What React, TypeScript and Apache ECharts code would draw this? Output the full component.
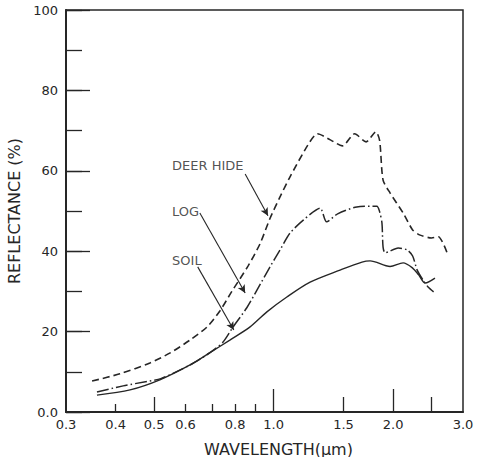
import React, { useEffect, useRef } from "react";
import * as echarts from "echarts";

// Deer hide (dashed)
const deerW = [0.349, 0.41, 0.488, 0.549, 0.616, 0.679, 0.733, 0.785, 0.862, 0.924, 0.978, 1.038, 1.1, 1.22, 1.29, 1.39, 1.49, 1.6, 1.71, 1.81, 1.85, 1.887, 1.965, 2.12, 2.24, 2.34, 2.5, 2.6, 2.75];
const deerR = [7.7, 9.5, 12.2, 14.7, 17.9, 21.1, 25.2, 30.0, 36.3, 41.8, 48.0, 53.5, 58.5, 66.4, 69.2, 67.7, 66.2, 69.2, 67.2, 69.7, 67.5, 57.7, 54.5, 49.5, 45.3, 44, 43.3, 43.6, 39];

// Log (dash-dot)
const logW = [0.359, 0.418, 0.48, 0.52, 0.616, 0.69, 0.746, 0.79, 0.857, 0.908, 0.978, 1.038, 1.1, 1.19, 1.31, 1.36, 1.45, 1.62, 1.82, 1.85, 1.875, 1.887, 1.91, 2.06, 2.17, 2.24, 2.3, 2.38, 2.45, 2.53];
const logR = [5.0, 6.5, 7.6, 8.3, 11.7, 14.7, 17.4, 21.1, 26, 30.3, 36, 40.3, 44.5, 47.8, 50.7, 47.3, 49.3, 51, 51.2, 49.8, 47, 41, 39.6, 40.8, 40.3, 38.8, 35.3, 32.8, 31.1, 29.9];

// Soil (solid)
const soilW = [0.359, 0.435, 0.517, 0.616, 0.69, 0.776, 0.871, 0.962, 1.08, 1.236, 1.47, 1.67, 1.75, 1.965, 2.12, 2.24, 2.32, 2.41, 2.55];
const soilR = [4.2, 5.5, 8.0, 11.7, 14.7, 17.9, 21.1, 24.9, 28.6, 32.3, 35.3, 37.3, 37.6, 36.2, 37.1, 35.8, 34.1, 32.1, 33.3];

// Axis ticks and labels
const xLabelValues = [0.3, 0.4, 0.5, 0.6, 0.8, 1.0, 1.5, 2.0, 3.0];
const xShortTicks = [0.4, 0.6, 0.7, 0.8, 0.9];
const xMidTicks = [0.5, 1.5, 2.5];
const xLongTicks = [1.0, 2.0];

// Annotations
const annotNames = ["DEER HIDE", "LOG", "SOIL"];
const annotW = [0.555, 0.555, 0.555];
const annotR = [61.2, 49.9, 37.8];
const arrowFrom = [[0.848, 59.2], [0.652, 49.5], [0.644, 36.1]];
const arrowTo = [[0.968, 48.8], [0.848, 29.6], [0.794, 20.4]];

const INK = "#262626";
const FONT = "DejaVu Sans";

const pairs = (w: number[], r: number[]) => w.map((x, i) => [x, r[i]]);

function makeX(ticks: number[], len: number, withLabels: boolean, extra: any = {}) {
  return {
    type: "log",
    logBase: 10,
    min: 0.3,
    max: 3.0,
    position: "bottom",
    axisLine: { show: withLabels, lineStyle: { color: INK, width: 2 } },
    axisTick: { show: true, inside: true, length: len, customValues: ticks, lineStyle: { color: INK, width: 1.3 } },
    axisLabel: withLabels
      ? { show: true, customValues: xLabelValues, formatter: (v: number) => Number(v).toFixed(1), margin: 6, fontSize: 13, color: INK, fontFamily: FONT }
      : { show: false },
    splitLine: { show: false },
    minorTick: { show: false },
    ...extra,
  };
}

export default function App() {
  const ref = useRef<HTMLDivElement>(null);
  useEffect(() => {
    if (!ref.current) return;
    const chart = echarts.init(ref.current, undefined, { renderer: "svg" });
    const option: any = {
      animation: false,
      backgroundColor: "#ffffff",
      grid: {
        left: 66,
        right: 17,
        top: 10,
        bottom: 45,
        show: true,
        borderColor: INK,
        borderWidth: 1.5,
        containLabel: false,
        outerBoundsMode: "none",
      },
      xAxis: [
        makeX(xShortTicks, 8, true, {
          name: "WAVELENGTH(μm)",
          nameLocation: "middle",
          nameGap: 29,
          nameTextStyle: { fontSize: 16, color: INK, fontFamily: FONT, padding: [0, 0, 0, 28] },
        }),
        makeX(xMidTicks, 15, false),
        makeX(xLongTicks, 23, false),
      ],
      yAxis: [
        {
          type: "value",
          min: 0,
          max: 100,
          interval: 20,
          position: "left",
          axisLine: { show: true, lineStyle: { color: INK, width: 2 } },
          axisTick: { show: true, inside: true, length: 24, lineStyle: { color: INK, width: 1.3 } },
          axisLabel: { formatter: (v: number) => (v === 0 ? "0.0" : String(v)), margin: 8, fontSize: 13, color: INK, fontFamily: FONT },
          splitLine: { show: false },
          name: "REFLECTANCE (%)",
          nameLocation: "middle",
          nameGap: 40,
          nameTextStyle: { fontSize: 16, color: INK, fontFamily: FONT },
        },
        {
          type: "value",
          min: 0,
          max: 100,
          interval: 10,
          position: "left",
          axisLine: { show: false },
          axisTick: { show: true, inside: true, length: 16, lineStyle: { color: INK, width: 1.3 } },
          axisLabel: { show: false },
          splitLine: { show: false },
        },
      ],
      series: [
        {
          name: "DEER HIDE",
          type: "line",
          data: pairs(deerW, deerR),
          showSymbol: false,
          smooth: 0.25,
          lineStyle: { color: INK, width: 1.6, type: [7, 4] },
        },
        {
          name: "LOG",
          type: "line",
          data: pairs(logW, logR),
          showSymbol: false,
          smooth: 0.25,
          lineStyle: { color: INK, width: 1.5, type: [12, 3, 1.5, 3] },
        },
        {
          name: "SOIL",
          type: "line",
          data: pairs(soilW, soilR),
          showSymbol: false,
          smooth: 0.3,
          lineStyle: { color: INK, width: 1.4 },
          markLine: {
            silent: true,
            symbol: ["none", "arrow"],
            symbolSize: [6, 8],
            label: { show: false },
            lineStyle: { color: INK, width: 1.1, type: "solid" },
            data: arrowFrom.map((f, i) => [{ coord: f }, { coord: arrowTo[i] }]),
          },
        },
        {
          name: "labels",
          type: "scatter",
          data: annotW.map((w, i) => ({ value: [w, annotR[i]], name: annotNames[i] })),
          symbolSize: 0,
          silent: true,
          label: {
            show: true,
            position: "right",
            distance: 0,
            formatter: (p: any) => p.name,
            fontSize: 13,
            color: INK,
            fontFamily: FONT,
          },
        },
      ],
    };
    chart.setOption(option);
    return () => chart.dispose();
  }, []);
  return <div ref={ref} style={{ position: "fixed", left: 0, top: 0, width: 480, height: 457 }} />;
}
